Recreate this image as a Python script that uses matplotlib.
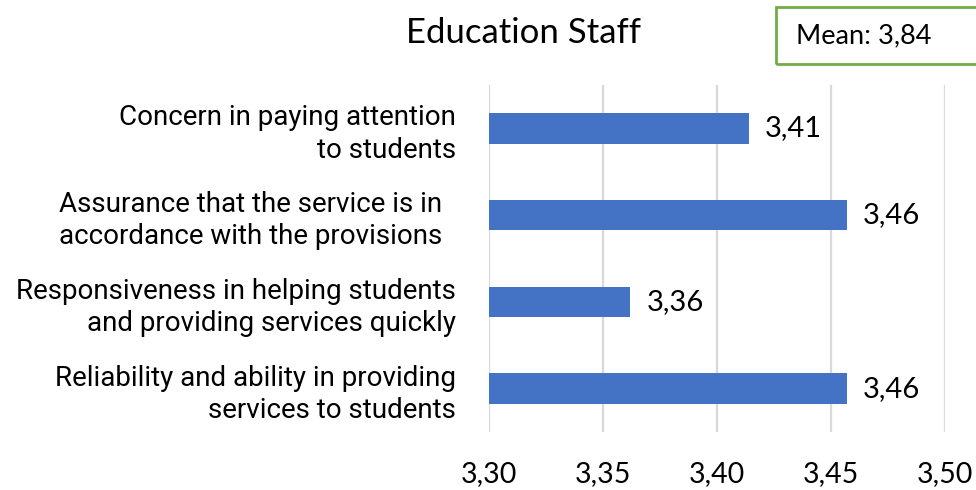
import matplotlib
matplotlib.use("Agg")
import matplotlib.pyplot as plt
from matplotlib.patches import Rectangle

categories = [
    "Concern in paying attention\nto students",
    "Assurance that the service is in  \naccordance with the provisions  ",
    "Responsiveness in helping students\nand providing services quickly",
    "Reliability and ability in providing\nservices to students",
]
values = [3.414, 3.457, 3.362, 3.457]
xticks = [3.30, 3.35, 3.40, 3.45, 3.50]
title = "Education Staff"
mean_text = "Mean: 3,84"

BAR = "#4472C4"
GRID = "#D9D9D9"
GREEN = "#70AD47"
num_font = ["Lato", "DejaVu Sans"]
lab_font = ["Roboto", "DejaVu Sans"]


def fmt(v):
    return f"{v:.2f}".replace(".", ",")


fig = plt.figure(figsize=(9.76, 4.9), dpi=100)
ax = fig.add_axes([489 / 976, 1 - 432 / 490, (945 - 489) / 976, (432 - 85) / 490])

y = list(range(len(categories)))
ax.barh(y, values, height=0.35, left=0, color=BAR, zorder=3)
ax.set_xlim(xticks[0], xticks[-1])
ax.set_ylim(len(categories) - 0.5, -0.5)

ax.set_xticks(xticks)
ax.set_xticklabels([fmt(t) for t in xticks], family=num_font, fontsize=20.5)
ax.tick_params(axis="x", length=0, pad=21)
ax.set_yticks(y)
ax.set_yticklabels(categories, family=lab_font, fontsize=20,
                   linespacing=1.25, ha="right", multialignment="right")
ax.tick_params(axis="y", length=0, pad=24)

ax.grid(axis="x", color=GRID, linewidth=1.6, zorder=0)
for s in ax.spines.values():
    s.set_visible(False)

for yi, v in zip(y, values):
    ax.annotate(fmt(v), xy=(v, yi), xytext=(11.5, 0), textcoords="offset points",
                ha="left", va="center", family=num_font, fontsize=21, zorder=4)

fig.text(523 / 976, 1 - 33 / 490, title, ha="center", va="center",
         family=num_font, fontsize=25)

fig.patches.append(Rectangle((776 / 976, 1 - 64 / 490), 0.3, 57 / 490,
                             transform=fig.transFigure, fill=False,
                             edgecolor=GREEN, linewidth=2))
fig.text(796 / 976, 1 - 36 / 490, mean_text, ha="left", va="center",
         family=num_font, fontsize=19.5)

fig.savefig("out.png", dpi=100, facecolor="white")
